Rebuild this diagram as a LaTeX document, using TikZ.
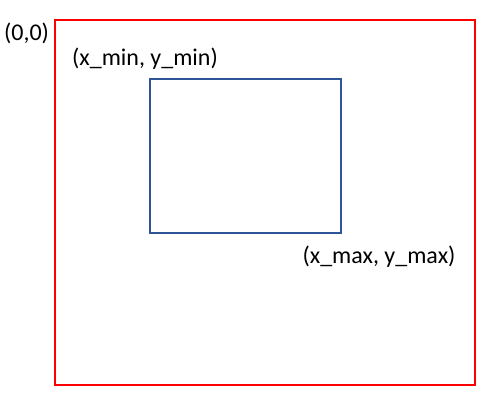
\documentclass[tikz,border=0pt]{standalone}
\usepackage{fontspec}
\setmainfont{Carlito}
\usetikzlibrary{positioning}

\definecolor{framered}{RGB}{255,0,0}
\definecolor{boxblue}{RGB}{47,85,151}

\begin{document}
\begin{tikzpicture}[
  x=1pt, y=-1pt,
  frame/.style={draw=framered, line width=2pt},
  roi/.style={draw=boxblue, line width=2pt},
  lbl/.style={inner sep=0pt, font=\fontsize{24}{29}\selectfont}
]
\useasboundingbox (0,0) rectangle (490,401);

% Outer image area
\draw[frame] (55,20) rectangle (475,385);

% Region of interest
\draw[roi] (150,79) rectangle (341,233);

% Corner labels
\node[lbl] (origin) at (26.5,33) {(0,0)};
\node[lbl] (minpt) at (145,59) {(x\_min, y\_min)};
\node[lbl] (maxpt) at (379,257) {(x\_max, y\_max)};

\end{tikzpicture}
\end{document}
